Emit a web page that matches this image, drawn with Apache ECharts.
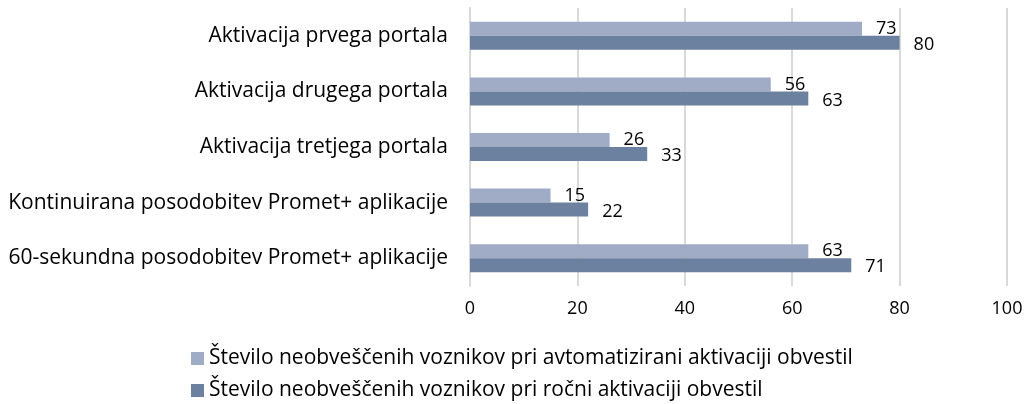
<!DOCTYPE html>
<html><head><meta charset="utf-8">
<script src="https://cdn.jsdelivr.net/npm/echarts@6/dist/echarts.min.js"></script>
<style>html,body{margin:0;padding:0;background:#fff}#c{width:1027px;height:404px}</style>
</head><body><div id="c"></div>
<script>
const categories = ["Aktivacija prvega portala","Aktivacija drugega portala","Aktivacija tretjega portala","Kontinuirana posodobitev Promet+ aplikacije","60-sekundna posodobitev Promet+ aplikacije"];
const seriesNames = ["Število neobveščenih voznikov pri avtomatizirani aktivaciji obvestil","Število neobveščenih voznikov pri ročni aktivaciji obvestil"];
const autoValues = [73,56,26,15,63];
const manualValues = [80,63,33,22,71];
const xTicks = [0,20,40,60,80,100];

const font = "Open Sans";
const chart = echarts.init(document.getElementById('c'));
chart.setOption({
  animation:false,
  textStyle:{fontFamily:font},
  grid:{left:470,right:20,top:8,bottom:118,containLabel:false},
  xAxis:{type:'value',min:xTicks[0],max:xTicks[xTicks.length-1],interval:20,
    axisLine:{show:false},axisTick:{show:false},
    splitLine:{lineStyle:{color:'#d9d9d9',width:2}},
    axisLabel:{color:'#000',fontSize:18,fontFamily:font,margin:14}},
  yAxis:{type:'category',data:categories,inverse:true,
    axisLine:{show:true,lineStyle:{color:'#d9d9d9',width:2}},axisTick:{show:false},
    axisLabel:{color:'#000',fontSize:21,fontFamily:font,margin:22}},
  legend:{orient:'vertical',left:191,top:348,padding:0,width:800,height:120,itemWidth:13,itemHeight:13,itemGap:11,
    icon:'rect',textStyle:{color:'#000',fontSize:21,fontFamily:font},data:seriesNames},
  series:[
    {name:seriesNames[0],type:'bar',data:autoValues,barWidth:14,barGap:'0%',
     itemStyle:{color:'#a0abc6'},
     label:{show:true,position:'right',distance:14,color:'#000',fontSize:18,fontFamily:font,offset:[0,0]}},
    {name:seriesNames[1],type:'bar',data:manualValues,barWidth:14,barGap:'0%',
     itemStyle:{color:'#6c81a0'},
     label:{show:true,position:'right',distance:14,color:'#000',fontSize:18,fontFamily:font,offset:[0,2]}}
  ]
});
</script></body></html>
